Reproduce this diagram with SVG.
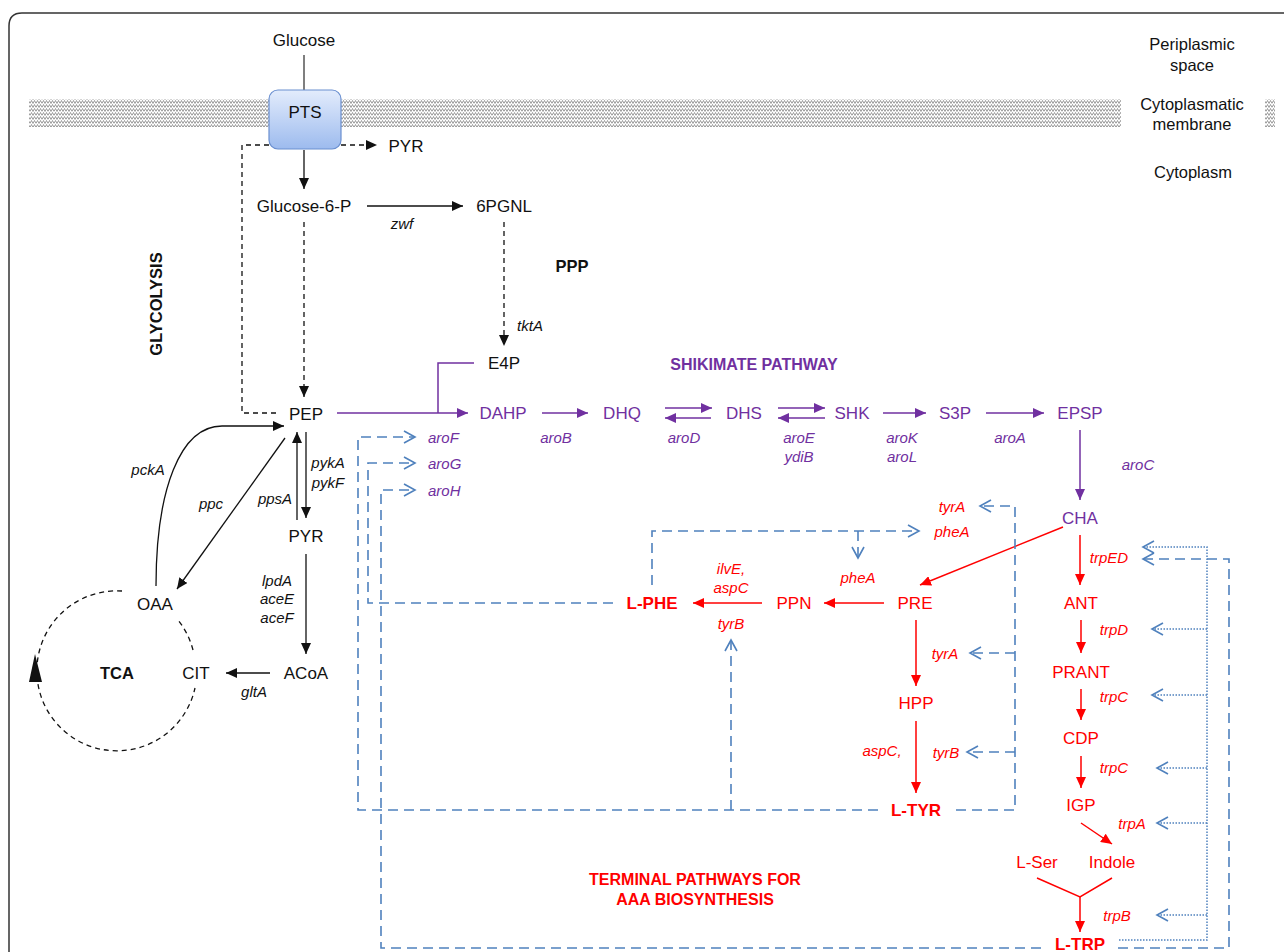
<svg xmlns="http://www.w3.org/2000/svg" width="1284" height="952" viewBox="0 0 1284 952">
<style>
text{font-family:"Liberation Sans",Arial,sans-serif;dominant-baseline:central;text-anchor:middle}
.n{font-size:17px;fill:#111}
.g{font-size:15px;font-style:italic;fill:#111}
.b{font-size:16.5px;font-weight:bold;fill:#111}
.pn{font-size:17px;fill:#7030a0}
.pg{font-size:15px;font-style:italic;fill:#7030a0}
.rn{font-size:17px;fill:#ff0000}
.rb{font-size:17px;font-weight:bold;fill:#ff0000}
.rg{font-size:15px;font-style:italic;fill:#ff0000}
.lbl{font-size:16.5px;fill:#111}
.k{fill:none;stroke:#111;stroke-width:1.3}
.kd{fill:none;stroke:#111;stroke-width:1.3;stroke-dasharray:5 4}
.p{fill:none;stroke:#7030a0;stroke-width:1.5}
.r{fill:none;stroke:#ff0000;stroke-width:1.5}
.bd{fill:none;stroke:#4f81bd;stroke-width:1.6;stroke-dasharray:10 6}
.bt{fill:none;stroke:#4f81bd;stroke-width:1.5;stroke-dasharray:1.5 1.5}
</style>
<defs>
<pattern id="zz" width="6" height="4" patternUnits="userSpaceOnUse">
<path d="M0,3.5 L1.5,0.5 L3,3.5 L4.5,0.5 L6,3.5" fill="none" stroke="#777" stroke-width="0.7"/>
</pattern>
<linearGradient id="pts" x1="0" y1="0" x2="0" y2="1">
<stop offset="0" stop-color="#e3ecfc"/>
<stop offset="1" stop-color="#9dbbee"/>
</linearGradient>
<marker id="ak" markerUnits="userSpaceOnUse" markerWidth="12" markerHeight="10" refX="11" refY="5" orient="auto"><path d="M0,0 L11,5 L0,10 z" fill="#111"/></marker>
<marker id="ap" markerUnits="userSpaceOnUse" markerWidth="12" markerHeight="10" refX="11" refY="5" orient="auto"><path d="M0,0 L11,5 L0,10 z" fill="#7030a0"/></marker>
<marker id="ar" markerUnits="userSpaceOnUse" markerWidth="12" markerHeight="10" refX="11" refY="5" orient="auto"><path d="M0,0 L11,5 L0,10 z" fill="#ff0000"/></marker>
<marker id="ab" markerUnits="userSpaceOnUse" markerWidth="14" markerHeight="14" refX="12" refY="7" orient="auto"><path d="M1,1 L12,7 L1,13" fill="none" stroke="#4f81bd" stroke-width="1.6" stroke-dasharray="none"/></marker>
</defs>

<rect width="1284" height="952" fill="#fff"/>
<path d="M9,960 V26 Q9,13 22,13 H1290" fill="none" stroke="#333" stroke-width="1.5"/>

<g id="membrane">
<rect x="29" y="99" width="1092" height="28" fill="url(#zz)"/>
<rect x="1265" y="99" width="10" height="28" fill="url(#zz)"/>
</g>

<g id="region-labels">
<text class="lbl" x="1192" y="44">Periplasmic</text>
<text class="lbl" x="1192" y="65">space</text>
<text class="lbl" x="1192" y="104">Cytoplasmatic</text>
<text class="lbl" x="1192" y="124">membrane</text>
<text class="lbl" x="1193" y="172">Cytoplasm</text>
</g>

<g id="connectors">
<path d="M304,55 V90" fill="none" stroke="#555" stroke-width="1.5"/>
<path class="k" d="M304,150 V189" marker-end="url(#ak)"/>
<path class="kd" d="M341,145 H377" marker-end="url(#ak)"/>
<path class="kd" d="M269,145 H242 V413 H276"/>
<path class="k" d="M367,206 H463" marker-end="url(#ak)"/>
<path class="kd" d="M304,222 V397" marker-end="url(#ak)"/>
<path class="kd" d="M504,222 V346" marker-end="url(#ak)"/>
<path class="k" d="M306,432 V518" marker-end="url(#ak)"/>
<path class="k" d="M297,520 V432" marker-end="url(#ak)"/>
<path class="k" d="M306,554 V654" marker-end="url(#ak)"/>
<path class="k" d="M270,673 H226" marker-end="url(#ak)"/>
<path class="k" d="M156,586 C156,490 180,426 222,426 L284,426" marker-end="url(#ak)"/>
<path class="k" d="M285,438 L177,589" marker-end="url(#ak)"/>
<path class="kd" d="M122,591 A80,80 0 1 0 195,688"/>
<path class="kd" d="M193,650 A80,80 0 0 0 178,620"/>
<polygon points="35,654 29,682 42,682" fill="#111"/>
<path class="p" d="M337,413 H468" marker-end="url(#ap)"/>
<path class="p" d="M474,363 H438 V413"/>
<path class="p" d="M542,413 H588" marker-end="url(#ap)"/>
<path class="p" d="M665,408 H712" marker-end="url(#ap)"/>
<path class="p" d="M711,418 H665" marker-end="url(#ap)"/>
<path class="p" d="M778,408 H825" marker-end="url(#ap)"/>
<path class="p" d="M825,418 H778" marker-end="url(#ap)"/>
<path class="p" d="M883,413 H926" marker-end="url(#ap)"/>
<path class="p" d="M986,413 H1044" marker-end="url(#ap)"/>
<path class="p" d="M1080,430 V500" marker-end="url(#ap)"/>
<path class="r" d="M1063,527 L920,585" marker-end="url(#ar)"/>
<path class="r" d="M884,603 H824" marker-end="url(#ar)"/>
<path class="r" d="M762,603 H693" marker-end="url(#ar)"/>
<path class="r" d="M916,620 V686" marker-end="url(#ar)"/>
<path class="r" d="M916,721 V793" marker-end="url(#ar)"/>
<path class="r" d="M1080,535 V585" marker-end="url(#ar)"/>
<path class="r" d="M1081,620 V653" marker-end="url(#ar)"/>
<path class="r" d="M1081,689 V720" marker-end="url(#ar)"/>
<path class="r" d="M1081,756 V788" marker-end="url(#ar)"/>
<path class="r" d="M1081,823 L1112,844" marker-end="url(#ar)"/>
<path class="r" d="M1037,878 L1080,897 L1112,878"/>
<path class="r" d="M1080,897 V932" marker-end="url(#ar)"/>
<path class="bd" d="M878,810 H358 V437 H415" marker-end="url(#ab)"/>
<path class="bd" d="M956,810 H1015 V506 H980" marker-end="url(#ab)"/>
<path class="bd" d="M1015,653 H970" marker-end="url(#ab)"/>
<path class="bd" d="M1015,752 H967" marker-end="url(#ab)"/>
<path class="bd" d="M731,810 V640" marker-end="url(#ab)"/>
<path class="bd" d="M613,603 H368 V463 H415" marker-end="url(#ab)"/>
<path class="bd" d="M652,585 V531 H919" marker-end="url(#ab)"/>
<path class="bd" d="M858,531 V558" marker-end="url(#ab)"/>
<path class="bd" d="M1041,948 H381 V490 H415" marker-end="url(#ab)"/>
<path class="bd" d="M1118,948 H1229 V559 H1143" marker-end="url(#ab)"/>
<path class="bt" d="M1119,940 H1207 V547 H1143" marker-end="url(#ab)"/>
<path class="bt" d="M1207,629 H1152" marker-end="url(#ab)"/>
<path class="bt" d="M1207,695 H1152" marker-end="url(#ab)"/>
<path class="bt" d="M1207,768 H1157" marker-end="url(#ab)"/>
<path class="bt" d="M1207,823 H1157" marker-end="url(#ab)"/>
<path class="bt" d="M1207,915 H1157" marker-end="url(#ab)"/>
</g>

<g id="glucose"><text class="n" x="304" y="40">Glucose</text></g>
<g id="pts">
<rect x="269" y="90" width="72" height="59" rx="9" fill="url(#pts)" stroke="#6a8fd0" stroke-width="1.2"/>
<text class="n" x="305" y="112">PTS</text>
</g>
<g id="pyr-ext"><text class="n" x="406" y="146">PYR</text></g>
<g id="g6p"><text class="n" x="304" y="206">Glucose-6-P</text></g>
<g id="zwf"><text class="g" x="402" y="223">zwf</text></g>
<g id="6pgnl"><text class="n" x="504" y="206">6PGNL</text></g>
<g id="tkta"><text class="g" x="530" y="325">tktA</text></g>
<g id="ppp"><text class="b" x="572" y="266">PPP</text></g>
<g id="glycolysis"><text class="b" x="156" y="304" transform="rotate(-90 156 304)">GLYCOLYSIS</text></g>
<g id="e4p"><text class="n" x="504" y="363">E4P</text></g>
<g id="pep"><text class="n" x="306" y="414">PEP</text></g>
<g id="pyk"><text class="g" x="328" y="462">pykA</text><text class="g" x="328" y="482">pykF</text></g>
<g id="ppsa"><text class="g" x="275" y="498">ppsA</text></g>
<g id="pyr"><text class="n" x="306" y="536">PYR</text></g>
<g id="pdh"><text class="g" x="277" y="580">lpdA</text><text class="g" x="277" y="598">aceE</text><text class="g" x="277" y="617">aceF</text></g>
<g id="acoa"><text class="n" x="306" y="673">ACoA</text></g>
<g id="cit"><text class="n" x="196" y="673">CIT</text></g>
<g id="glta"><text class="g" x="254" y="691">gltA</text></g>
<g id="oaa"><text class="n" x="155" y="604">OAA</text></g>
<g id="tca"><text class="b" x="117" y="673">TCA</text></g>
<g id="pcka"><text class="g" x="148" y="469">pckA</text></g>
<g id="ppc"><text class="g" x="211" y="503">ppc</text></g>

<g id="shikimate-title"><text x="754" y="364" style="font-size:16px;font-weight:bold;fill:#7030a0">SHIKIMATE PATHWAY</text></g>
<g id="dahp"><text class="pn" x="503" y="413">DAHP</text></g>
<g id="dhq"><text class="pn" x="622" y="413">DHQ</text></g>
<g id="dhs"><text class="pn" x="744" y="413">DHS</text></g>
<g id="shk"><text class="pn" x="852" y="413">SHK</text></g>
<g id="s3p"><text class="pn" x="955" y="413">S3P</text></g>
<g id="epsp"><text class="pn" x="1080" y="413">EPSP</text></g>
<g id="cha"><text class="pn" x="1080" y="518">CHA</text></g>
<g id="arob"><text class="pg" x="556" y="437">aroB</text></g>
<g id="arod"><text class="pg" x="684" y="437">aroD</text></g>
<g id="aroe"><text class="pg" x="799" y="437">aroE</text><text class="pg" x="799" y="456">ydiB</text></g>
<g id="arok"><text class="pg" x="902" y="437">aroK</text><text class="pg" x="902" y="456">aroL</text></g>
<g id="aroa"><text class="pg" x="1010" y="437">aroA</text></g>
<g id="aroc"><text class="pg" x="1138" y="464">aroC</text></g>
<g id="arof"><text class="pg" x="428" y="437" style="text-anchor:start">aroF</text></g>
<g id="arog"><text class="pg" x="428" y="463" style="text-anchor:start">aroG</text></g>
<g id="aroh"><text class="pg" x="428" y="490" style="text-anchor:start">aroH</text></g>

<g id="tyra1"><text class="rg" x="952" y="506">tyrA</text></g>
<g id="phea1"><text class="rg" x="952" y="531">pheA</text></g>
<g id="phea2"><text class="rg" x="858" y="577">pheA</text></g>
<g id="ilve"><text class="rg" x="731" y="568">ilvE,</text><text class="rg" x="731" y="587">aspC</text></g>
<g id="tyrb1"><text class="rg" x="731" y="623">tyrB</text></g>
<g id="pre"><text class="rn" x="915" y="603">PRE</text></g>
<g id="ppn"><text class="rn" x="794" y="603">PPN</text></g>
<g id="lphe"><text class="rb" x="652" y="603">L-PHE</text></g>
<g id="tyra2"><text class="rg" x="945" y="653">tyrA</text></g>
<g id="hpp"><text class="rn" x="916" y="703">HPP</text></g>
<g id="aspc2"><text class="rg" x="882" y="750">aspC,</text></g>
<g id="tyrb2"><text class="rg" x="946" y="752">tyrB</text></g>
<g id="ltyr"><text class="rb" x="916" y="810">L-TYR</text></g>
<g id="terminal-title">
<text x="695" y="879" style="font-size:16px;font-weight:bold;fill:#ff0000">TERMINAL PATHWAYS FOR</text>
<text x="695" y="899" style="font-size:16px;font-weight:bold;fill:#ff0000">AAA BIOSYNTHESIS</text>
</g>
<g id="trped"><text class="rg" x="1109" y="557">trpED</text></g>
<g id="ant"><text class="rn" x="1081" y="603">ANT</text></g>
<g id="trpd"><text class="rg" x="1114" y="629">trpD</text></g>
<g id="prant"><text class="rn" x="1081" y="672">PRANT</text></g>
<g id="trpc1"><text class="rg" x="1114" y="696">trpC</text></g>
<g id="cdp"><text class="rn" x="1081" y="738">CDP</text></g>
<g id="trpc2"><text class="rg" x="1114" y="767">trpC</text></g>
<g id="igp"><text class="rn" x="1081" y="805">IGP</text></g>
<g id="trpa"><text class="rg" x="1132" y="823">trpA</text></g>
<g id="lser"><text class="rn" x="1037" y="862">L-Ser</text></g>
<g id="indole"><text class="rn" x="1112" y="862">Indole</text></g>
<g id="trpb"><text class="rg" x="1117" y="915">trpB</text></g>
<g id="ltrp"><text class="rb" x="1080" y="944">L-TRP</text></g>
</svg>
